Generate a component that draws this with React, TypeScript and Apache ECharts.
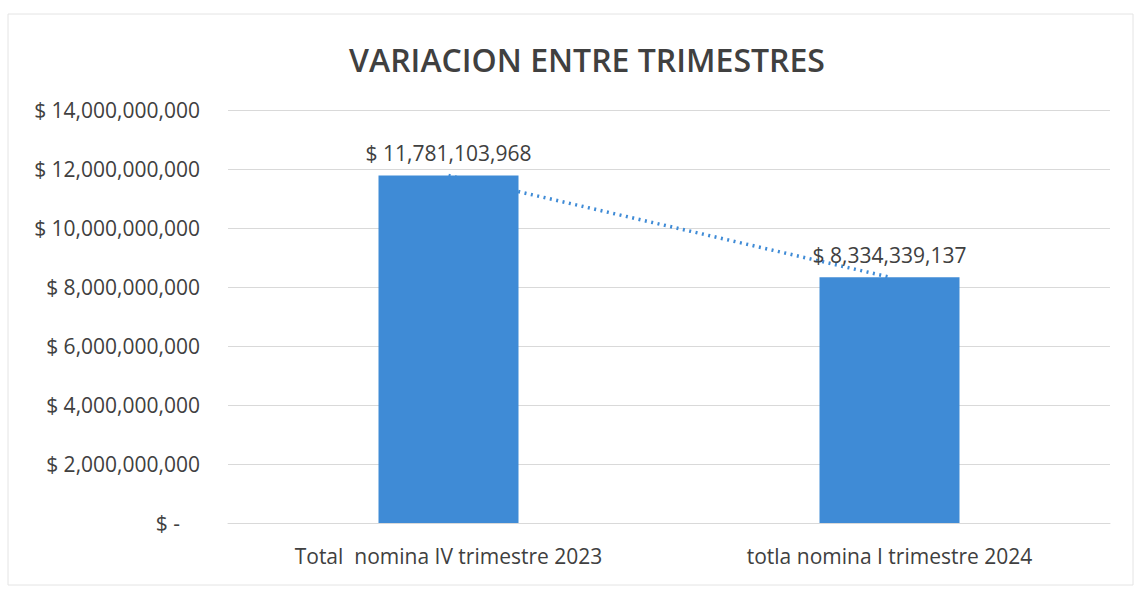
import React, { useEffect, useRef } from "react";
import * as echarts from "echarts";

const categories = ["Total  nomina IV trimestre 2023", "totla nomina I trimestre 2024"];
const values = [11781103968, 8334339137];
const yMax = 14000000000;
const yInterval = 2000000000;
const title = "VARIACION ENTRE TRIMESTRES";

const fmt = (v: number) => "$ " + v.toLocaleString("en-US");

export default function App() {
  const ref = useRef<HTMLDivElement>(null);
  useEffect(() => {
    if (!ref.current) return;
    const chart = echarts.init(ref.current, null, { renderer: "svg" });
    const font = "'Open Sans', sans-serif";
    chart.setOption({
      animation: false,
      backgroundColor: "#ffffff",
      textStyle: { fontFamily: font },
      title: {
        text: title,
        left: 582,
        textAlign: "center",
        top: 38,
        textStyle: { fontFamily: font, fontSize: 32, fontWeight: 600, color: "#404040" },
      },
      graphic: [
        {
          type: "rect",
          shape: { x: 8, y: 14, width: 1125, height: 571 },
          style: { fill: "none", stroke: "#e4e4e4", lineWidth: 1 },
          silent: true,
        },
      ],
      grid: { left: 228, right: 31, top: 110, bottom: 67 },
      xAxis: {
        type: "category",
        data: categories,
        axisLine: { show: true, lineStyle: { color: "#d9d9d9" } },
        axisTick: { show: false },
        axisLabel: { fontSize: 21, color: "#404040", margin: 22, fontFamily: font },
      },
      yAxis: {
        type: "value",
        min: 0,
        max: yMax,
        interval: yInterval,
        axisLine: { show: false },
        axisTick: { show: false },
        splitLine: { lineStyle: { color: "#d9d9d9", width: 1 } },
        axisLabel: {
          margin: 28,
          fontSize: 21,
          color: "#404040",
          fontFamily: font,
          formatter: (v: number) => (v === 0 ? "{z|$ -}" : fmt(v)),
          rich: { z: { fontSize: 21, color: "#404040", fontFamily: font, padding: [0, 20, 0, 0] } },
        },
      },
      series: [
        {
          type: "line",
          data: values,
          z: 1,
          symbol: "none",
          lineStyle: { color: "#3f8bd6", width: 3.5, type: [2, 4.5] },
          silent: true,
        },
        {
          type: "bar",
          data: values,
          z: 2,
          barWidth: 140,
          itemStyle: { color: "#3f8bd6" },
          label: {
            show: true,
            position: "top",
            distance: 12,
            fontSize: 21,
            color: "#404040",
            fontFamily: font,
            formatter: (p: any) => fmt(p.value),
          },
        },
      ],
    });
    return () => chart.dispose();
  }, []);
  return (
    <div
      ref={ref}
      style={{ position: "fixed", left: 0, top: 0, width: 1141, height: 590 }}
    />
  );
}
